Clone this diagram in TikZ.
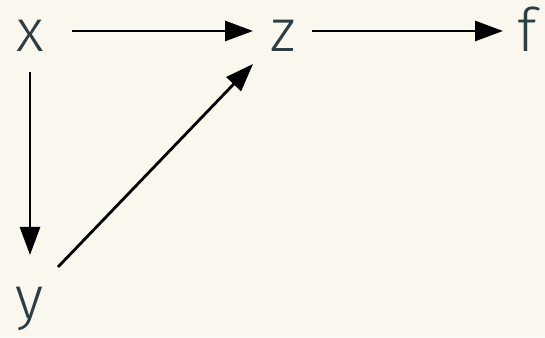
\documentclass[tikz,border=0pt]{standalone}
\usepackage{fontspec}
\setmainfont{Fira Sans}[UprightFont=* Light]
\usetikzlibrary{arrows.meta}
\definecolor{bg}{HTML}{F9F7EE}
\definecolor{txt}{HTML}{2C3E43}
\begin{document}
\begin{tikzpicture}[x=1pt,y=1pt,
  lbl/.style={inner sep=0pt,anchor=base,text=txt,font=\fontsize{60}{72}\selectfont},
  arr/.style={line width=2.8pt,-{Triangle[length=28pt,width=20pt]}}]
\fill[bg] (0,0) rectangle (545,337);
\useasboundingbox (0,0) rectangle (545,337);
\node[lbl] (x) at (30,285) {x};
\node[lbl] (z) at (283,285) {z};
\node[lbl] (f) at (527,285) {f};
\node[lbl] (y) at (30,19) {y};
\draw[arr] ([xshift=42pt,yshift=21pt]x.base) -- ([xshift=-30pt,yshift=21pt]z.base);
\draw[arr] ([xshift=29pt,yshift=21pt]z.base) -- ([xshift=-24pt,yshift=21pt]f.base);
\draw[arr] ([yshift=-20pt]x.base) -- ([yshift=63pt]y.base);
\draw[arr] ([xshift=28pt,yshift=51pt]y.base) -- ([xshift=-30pt,yshift=-12pt]z.base);
\end{tikzpicture}
\end{document}
